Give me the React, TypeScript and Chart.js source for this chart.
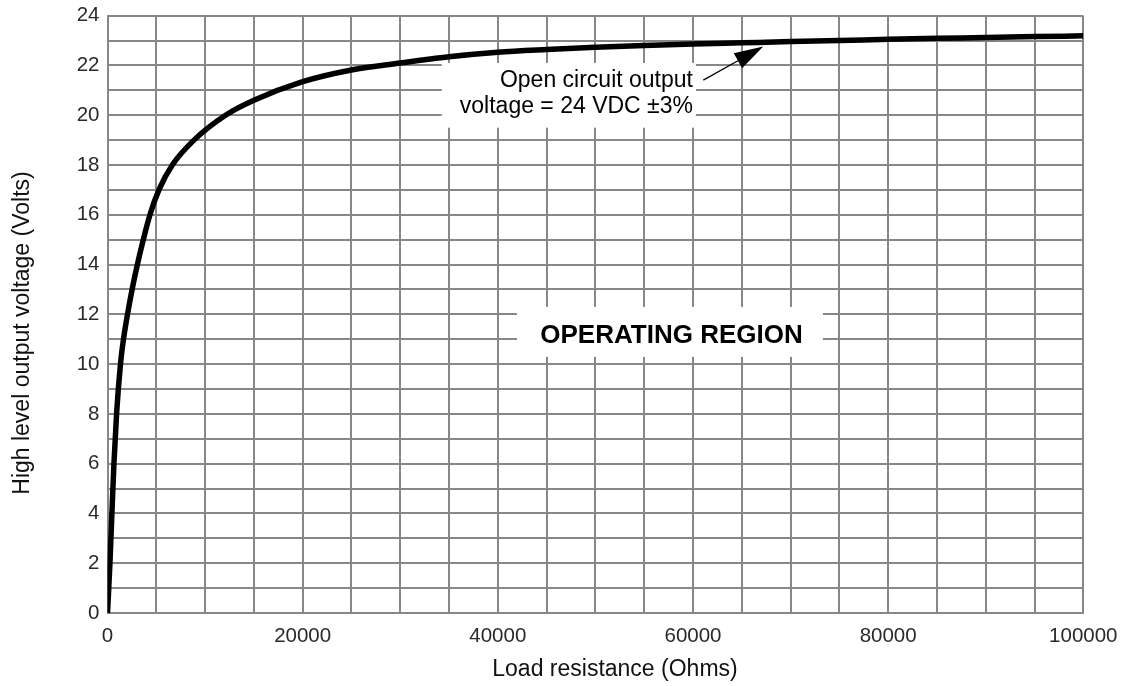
import React, { useEffect, useRef } from "react";
import { Chart, registerables } from "chart.js";

Chart.register(...registerables);

// ---- Data ----
const resistanceOhms = [
  0, 250, 450, 660, 930, 1330, 1640, 2050, 2520, 3060, 3670, 4350, 5270, 6640,
  8860, 12100, 15000, 20000, 25000, 30000, 35000, 40000, 45000, 50000,
  55000, 60000, 65000, 70000, 75000, 80000, 85000, 90000, 95000, 100000,
];
const outputVolts = [
  0, 2, 4, 6, 8, 10, 11, 12, 13, 14, 15, 16, 17, 18,
  19, 20, 20.6, 21.35, 21.82, 22.1, 22.35, 22.53, 22.64, 22.73,
  22.8, 22.86, 22.91, 22.96, 23.0, 23.05, 23.09, 23.12, 23.16, 23.19,
];

const xLabelValues = [0, 20000, 40000, 60000, 80000, 100000];
const yLabelValues = [0, 2, 4, 6, 8, 10, 12, 14, 16, 18, 20, 22, 24];

const xTitle = "Load resistance (Ohms)";
const yTitle = "High level output voltage (Volts)";
const regionText = "OPERATING REGION";
const noteLines = ["Open circuit output", "voltage = 24 VDC \u00b13%"];

// ---- Annotation anchors (data coordinates) ----
const regionBox = { x0: 41960, x1: 73320, yTop: 12.3, yBottom: 10.29 };
const regionTextAt = { x: 57800, y: 10.85 };
const noteBox = { x0: 34250, x1: 60300, yTop: 22.1, yBottom: 19.5 };
const noteRightX = 60000;
const noteBaselines = [21.15, 20.1];
const arrowTail = { x: 61060, y: 21.41 };
const arrowTip = { x: 67200, y: 22.76 };

// ---- Styles ----
const FONT = "'Liberation Sans', Arial, Helvetica, sans-serif";
const GRID = "#878787";

const annotationPlugin = {
  id: "annotations",
  afterDatasetsDraw(chart: any) {
    const { ctx } = chart;
    const xs = chart.scales.x;
    const ys = chart.scales.y;
    const px = (v: number) => xs.getPixelForValue(v);
    const py = (v: number) => ys.getPixelForValue(v);
    ctx.save();
    // Operating region box
    ctx.fillStyle = "#fff";
    ctx.fillRect(
      px(regionBox.x0),
      py(regionBox.yTop),
      px(regionBox.x1) - px(regionBox.x0),
      py(regionBox.yBottom) - py(regionBox.yTop)
    );
    ctx.fillStyle = "#000";
    ctx.font = `bold 26px ${FONT}`;
    ctx.textAlign = "center";
    ctx.textBaseline = "alphabetic";
    ctx.fillText(regionText, px(regionTextAt.x), py(regionTextAt.y));

    // Note box
    ctx.fillStyle = "#fff";
    ctx.fillRect(
      px(noteBox.x0),
      py(noteBox.yTop),
      px(noteBox.x1) - px(noteBox.x0),
      py(noteBox.yBottom) - py(noteBox.yTop)
    );
    ctx.fillStyle = "#000";
    ctx.font = `23px ${FONT}`;
    ctx.textAlign = "right";
    noteLines.forEach((line, i) => {
      ctx.fillText(line, px(noteRightX), py(noteBaselines[i]));
    });

    // Arrow
    const tx = px(arrowTail.x), ty = py(arrowTail.y);
    const hx = px(arrowTip.x), hy = py(arrowTip.y);
    const ang = Math.atan2(hy - ty, hx - tx);
    const headLen = 29;
    const headHalf = 8.5;
    const bx = hx - headLen * Math.cos(ang);
    const by = hy - headLen * Math.sin(ang);
    ctx.strokeStyle = "#000";
    ctx.lineWidth = 1.3;
    ctx.beginPath();
    ctx.moveTo(tx, ty);
    ctx.lineTo(bx, by);
    ctx.stroke();
    ctx.beginPath();
    ctx.moveTo(hx, hy);
    ctx.lineTo(bx + headHalf * Math.sin(ang), by - headHalf * Math.cos(ang));
    ctx.lineTo(bx - headHalf * Math.sin(ang), by + headHalf * Math.cos(ang));
    ctx.closePath();
    ctx.fillStyle = "#000";
    ctx.fill();
    ctx.restore();
  },
  afterDraw(chart: any) {
    const { ctx } = chart;
    ctx.save();
    ctx.fillStyle = "#111";
    ctx.font = `23px ${FONT}`;
    ctx.textAlign = "center";
    ctx.textBaseline = "alphabetic";
    ctx.fillText(xTitle, 615, 676);
    ctx.translate(28.5, 333);
    ctx.rotate(-Math.PI / 2);
    ctx.fillText(yTitle, 0, 0);
    ctx.restore();
  },
};

export default function App() {
  const ref = useRef<HTMLCanvasElement>(null);
  useEffect(() => {
    const canvas = ref.current;
    if (!canvas) return;
    const chart = new Chart(canvas, {
      type: "line",
      data: {
        datasets: [
          {
            data: resistanceOhms.map((r, i) => ({ x: r, y: outputVolts[i] })),
            borderColor: "#000",
            borderWidth: 5.5,
            pointRadius: 0,
            fill: false,
            cubicInterpolationMode: "monotone",
          } as any,
        ],
      },
      options: {
        responsive: false,
        animation: false,
        devicePixelRatio: 1,
        layout: { padding: { left: 0, top: 15.7, right: 40.7, bottom: 0 } },
        plugins: { legend: { display: false }, tooltip: { enabled: false } },
        scales: {
          x: {
            type: "linear",
            min: 0,
            max: 100000,
            afterFit: (s: any) => {
              s.height = 73;
              s.paddingLeft = 0;
              s.paddingRight = 0;
            },
            grid: { color: GRID, lineWidth: 2, drawTicks: false },
            border: { color: GRID, width: 2 },
            ticks: {
              stepSize: 5000,
              autoSkip: false,
              maxRotation: 0,
              padding: 11,
              color: "#2a2a2a",
              font: { family: FONT, size: 20.5 },
              callback: (v: any) => (xLabelValues.includes(Number(v)) ? String(v) : ""),
            },
          },
          y: {
            type: "linear",
            min: 0,
            max: 24,
            afterFit: (s: any) => {
              s.width = 107.5;
              s.paddingTop = 0;
              s.paddingBottom = 0;
            },
            grid: { color: GRID, lineWidth: 2, drawTicks: false },
            border: { color: GRID, width: 2 },
            ticks: {
              stepSize: 1,
              autoSkip: false,
              padding: 8,
              color: "#2a2a2a",
              font: { family: FONT, size: 20.5 },
              callback: (v: any) => (yLabelValues.includes(Number(v)) ? String(v) : ""),
            },
          },
        },
      },
      plugins: [annotationPlugin],
    });
    return () => chart.destroy();
  }, []);
  return (
    <div style={{ position: "absolute", left: 0, top: 0, width: 1124, height: 686 }}>
      <canvas ref={ref} width={1124} height={686} style={{ display: "block" }} />
    </div>
  );
}
